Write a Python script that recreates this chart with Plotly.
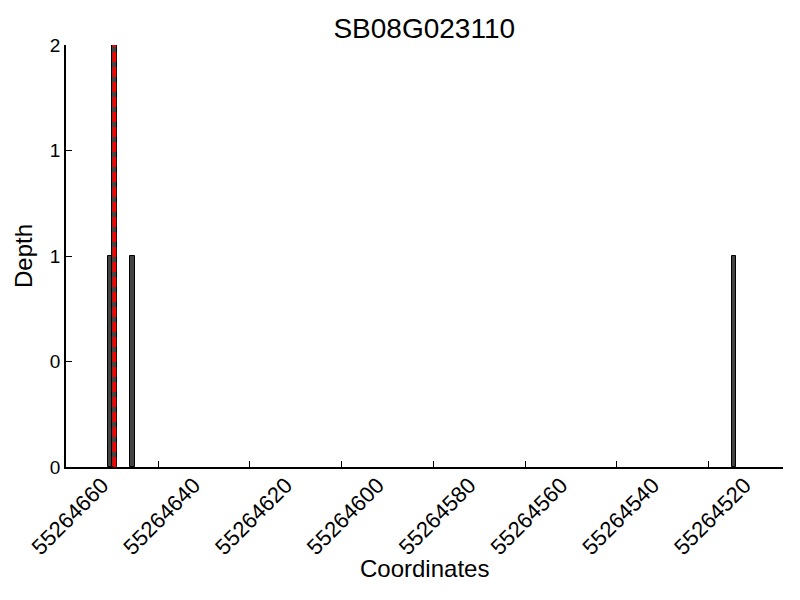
import plotly.graph_objects as go

positions = [55264650, 55264649, 55264645, 55264514]
depths = [1, 2, 1, 1]
marker_pos = 55264649
marker_depth = 2
xtick_vals = [55264660, 55264640, 55264620, 55264600, 55264580, 55264560, 55264540, 55264520]
ytick_vals = [0, 0.5, 1, 1.5, 2]
ytick_text = ["0", "0", "1", "1", "2"]
title = "SB08G023110"
x_title = "Coordinates"
y_title = "Depth"
bin_width = 1

fig = go.Figure()
fig.add_trace(go.Bar(x=positions, y=depths, width=bin_width, offset=0,
                     marker=dict(color="#444444", line=dict(color="black", width=1)),
                     showlegend=False))
fig.add_trace(go.Scatter(x=[marker_pos + bin_width / 2] * 2, y=[0, marker_depth], mode="lines",
                         line=dict(color="red", width=3.5, dash="10px,5px"), showlegend=False))

# page body adds an 8px offset
OFF = 8
L, R, T, B = 65.5 - OFF, 17 + OFF, 45 - OFF, 133 + OFF
plot_h = 600 - T - B
fig.update_layout(
    width=800, height=600,
    margin=dict(l=L, r=R, t=T, b=B, autoexpand=False),
    paper_bgcolor="white", plot_bgcolor="white",
    font=dict(family="Liberation Sans, Arial, sans-serif", color="black"),
    title=dict(text=title, x=(L + 800 - R) / 2 / 800, xanchor="center",
               y=1 - (28 - OFF) / 600, yanchor="middle", font=dict(size=28)),
    bargap=0,
)
fig.add_annotation(text=x_title, xref="paper", yref="paper", x=0.5, y=-101 / plot_h,
                   xanchor="center", yanchor="middle", showarrow=False, font=dict(size=24))
fig.update_xaxes(range=[55264660.05, 55264503.8], tickvals=xtick_vals,
                 ticktext=[str(v) for v in xtick_vals], tickangle=-45,
                 ticklabelshift=-36, ticklabelstandoff=-5,
                 showline=True, linecolor="black", linewidth=1.5, ticks="inside",
                 ticklen=6, tickcolor="black", showgrid=False, zeroline=False,
                 automargin=False, tickfont=dict(size=22))
fig.update_yaxes(range=[0, 2], tickvals=ytick_vals, ticktext=ytick_text,
                 showline=True, linecolor="black", linewidth=1.5, ticks="inside",
                 ticklen=6, tickcolor="black", showgrid=False, zeroline=False,
                 automargin=False,
                 tickfont=dict(size=19), title=dict(text=y_title, font=dict(size=24), standoff=10))

fig.write_html("out.html")
